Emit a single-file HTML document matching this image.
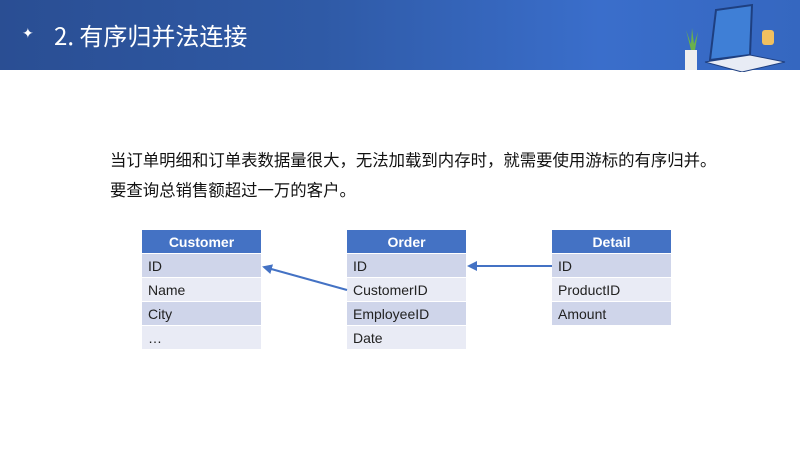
<!DOCTYPE html>
<html><head><meta charset="utf-8"><style>
body{margin:0;width:800px;height:450px;background:#fff;position:relative;overflow:hidden;font-family:"Liberation Sans","Noto Sans CJK SC",sans-serif}
.hd{position:absolute;left:0;top:0;width:800px;height:70px;background:linear-gradient(90deg,#2a4e93 0%,#2f5aa6 40%,#3a6ecb 75%,#3567c0 100%)}
.tt{position:absolute;left:54px;top:17px;color:#fff;font-size:24px;font-family:"Noto Sans CJK SC",sans-serif}
.star{position:absolute;left:22px;top:25px;color:#fff;font-size:14px}
.p{position:absolute;left:110px;font-size:16.4px;color:#111;font-family:"Noto Sans CJK SC",sans-serif;white-space:nowrap}
.t{position:absolute;top:230px;width:119px;font-size:14px}
.t div{height:23px;line-height:25px;margin-bottom:1px;padding-left:6px;color:#222}
.t .h{background:#4472c4;color:#fff;font-weight:bold;text-align:center;padding:0}
.a{background:#cfd5ea}.b{background:#e9ebf5}
</style></head><body>
<div class="hd"></div>
<div class="star">✦</div>
<div class="tt">2. 有序归并法连接</div>
<svg style="position:absolute;left:670px;top:0" width="130" height="72">
<rect x="15" y="50" width="12" height="20" fill="#eee"/>
<path d="M21 50 L16 30 L21 44 L22 28 L24 44 L28 32 L25 50Z" fill="#6ab04c"/>
<path d="M40 60 L46 10 L82 5 L80 55Z" fill="#3f7fd6" stroke="#1e3f80" stroke-width="2"/>
<path d="M35 62 L80 55 L115 62 L72 72Z" fill="#e8ecf5" stroke="#1e3f80" stroke-width="1"/>
<rect x="92" y="30" width="12" height="15" rx="3" fill="#f0c060"/>
</svg>
<div class="p" style="top:147px">当订单明细和订单表数据量很大，无法加载到内存时，就需要使用游标的有序归并。</div>
<div class="p" style="top:177px">要查询总销售额超过一万的客户。</div>
<div class="t" style="left:142px"><div class="h">Customer</div><div class="a">ID</div><div class="b">Name</div><div class="a">City</div><div class="b">…</div></div>
<div class="t" style="left:347px"><div class="h">Order</div><div class="a">ID</div><div class="b">CustomerID</div><div class="a">EmployeeID</div><div class="b">Date</div></div>
<div class="t" style="left:552px"><div class="h">Detail</div><div class="a">ID</div><div class="b">ProductID</div><div class="a">Amount</div></div>
<svg style="position:absolute;left:0;top:0" width="800" height="450">
<defs><marker id="m" markerWidth="5" markerHeight="5" refX="4" refY="2.5" orient="auto"><path d="M0,0 L5,2.5 L0,5Z" fill="#4472c4"/></marker></defs>
<line x1="347" y1="290" x2="264" y2="267" stroke="#4472c4" stroke-width="2" marker-end="url(#m)"/>
<line x1="552" y1="266" x2="469" y2="266" stroke="#4472c4" stroke-width="2" marker-end="url(#m)"/>
</svg>
</body></html>
